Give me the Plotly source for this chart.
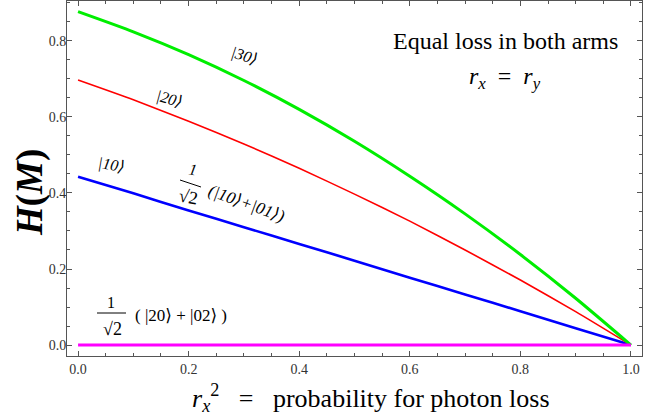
import plotly.graph_objects as go

# loss probability r_x^2 (sampled every 0.1)
loss_prob = [0.0, 0.1, 0.2, 0.3, 0.4, 0.5, 0.6, 0.7, 0.8, 0.9, 1.0]

# H(M) for each input state
h_30 = [0.877, 0.824, 0.764, 0.696, 0.620, 0.536, 0.444, 0.345, 0.238, 0.123, 0.0]
h_20 = [0.697, 0.645, 0.589, 0.529, 0.465, 0.397, 0.326, 0.250, 0.171, 0.088, 0.0]
h_10 = [0.443, 0.399, 0.354, 0.310, 0.266, 0.222, 0.177, 0.133, 0.089, 0.044, 0.0]
h_noon2 = [0.0] * 11

x_tick_vals = [0.0, 0.2, 0.4, 0.6, 0.8, 1.0]
x_tick_text = ["0.0", "0.2", "0.4", "0.6", "0.8", "1.0"]
y_tick_vals = [0.0, 0.2, 0.4, 0.6, 0.8]
y_tick_text = ["0.0", "0.2", "0.4", "0.6", "0.8"]

SERIF = "Liberation Serif, DejaVu Serif, serif"
NB = "\u00a0"

# plot-area geometry in pixels (used to place text around the frame)
W, H = 670, 420
L, R, T, B = 67, 642, 1, 356
X0, XSPAN = -0.02, 1.04
Y0, YSPAN = -0.0289, 0.934


def px(xp, yp):
    """pixel position -> data coordinates"""
    return (X0 + (xp - L) / (R - L) * XSPAN,
            Y0 + (B - yp) / (B - T) * YSPAN)


fig = go.Figure()
series = [
    (h_10, "#0000ff", 2.6),
    (h_20, "#ff0000", 1.6),
    (h_30, "#00ee00", 3.0),
    (h_noon2, "#ff00ff", 3.0),
]
for ys, col, w in series:
    fig.add_trace(go.Scatter(x=loss_prob, y=ys, mode="lines",
                             line=dict(color=col, width=w, shape="spline", smoothing=0.6),
                             showlegend=False, hoverinfo="skip"))

ann = []


def label(xp, yp, text, size, angle=0, italic=False, paper=False):
    t = f"<i>{text}</i>" if italic else text
    if paper:
        x, y, xr, yr = (xp - L) / (R - L), (B - yp) / (B - T), "paper", "paper"
    else:
        (x, y), xr, yr = px(xp, yp), "x", "y"
    ann.append(dict(x=x, y=y, xref=xr, yref=yr, text=t, showarrow=False,
                    textangle=angle, font=dict(family=SERIF, size=size, color="black"),
                    xanchor="center", yanchor="middle"))


# curve labels
label(244, 56, "|30⟩", 16, 18, True)
label(169, 99, "|20⟩", 16, 15, True)
label(111, 165, "|10⟩", 16, 10, True)

# 1/√2 (|10⟩+|01⟩), tilted along the blue line
label(193, 169, "1", 16, 10, True)
label(188, 197, "√2", 18, 10)
label(247, 203, "(|10⟩+|01⟩)", 17, 20, True)

# 1/√2 ( |20⟩ + |02⟩ )
label(111, 302, "1", 16)
label(112, 329, "√2", 18)
label(181, 315, f"({NB}|20⟩{NB}+{NB}|02⟩{NB})", 17)

# inset description
label(505, 41, "Equal loss in both arms", 24)
label(505, 78, f"<i>r</i><sub><i>x</i></sub>{NB*2}={NB*2}<i>r</i><sub><i>y</i></sub>", 24)

# axis titles
label(30, 193, "<b><i>H</i>(<i>M</i>)</b>", 37, -90, paper=True)
label(371, 398,
      f"<i>r</i><sub><i>x</i></sub><sup>2</sup>{NB*3}={NB*3}probability for photon loss",
      26, paper=True)

shapes = []
for (xa, ya, xb, yb) in [(180, 180, 201, 187), (97, 313, 126, 313)]:
    x1, y1 = px(xa, ya)
    x2, y2 = px(xb, yb)
    shapes.append(dict(type="line", xref="x", yref="y", x0=x1, y0=y1, x1=x2, y1=y2,
                       line=dict(color="black", width=1)))


def axis_style(vals, text, rng, standoff):
    return dict(
        range=rng, tickvals=vals, ticktext=text,
        showline=True, linecolor="#555555", linewidth=1, mirror="allticks",
        ticks="inside", ticklen=5, tickwidth=1, tickcolor="#555555",
        showgrid=False, zeroline=False, ticklabelstandoff=standoff,
        tickfont=dict(family=SERIF, size=14, color="#333333"),
        minor=dict(ticks="inside", ticklen=3, tickwidth=1, tickcolor="#555555",
                   tick0=0.0, dtick=0.05, showgrid=False),
    )


fig.update_layout(
    width=W, height=H,
    margin=dict(l=L, r=W - R, t=T, b=H - B),
    paper_bgcolor="white", plot_bgcolor="white",
    xaxis=axis_style(x_tick_vals, x_tick_text, [X0, X0 + XSPAN], 0),
    yaxis=axis_style(y_tick_vals, y_tick_text, [Y0, Y0 + YSPAN], -3),
    annotations=ann, shapes=shapes,
)

fig.write_html("out.html")
